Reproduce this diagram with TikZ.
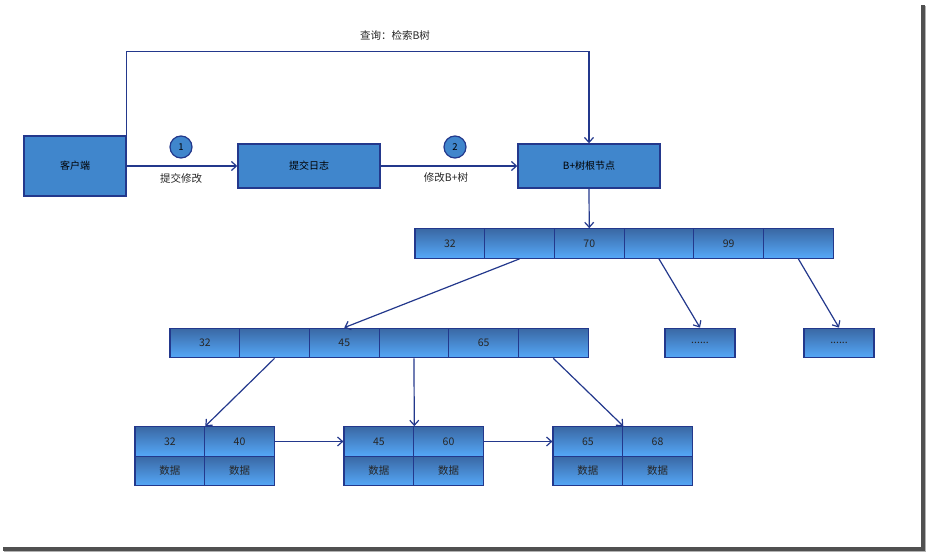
\documentclass[tikz,border=0pt]{standalone}
\usepackage{fontspec}
\setmainfont{Noto Sans CJK SC}
\usetikzlibrary{arrows.meta}
\definecolor{edge}{HTML}{23388C}
\definecolor{boxfill}{HTML}{4086CC}
\definecolor{celltop}{HTML}{3A68A4}
\definecolor{cellbot}{HTML}{55A8F8}
\definecolor{shadowc}{HTML}{505050}
\tikzset{
  mainbox/.style={draw=edge, line width=1.4pt, fill=boxfill, inner sep=0pt, font=\fontsize{10}{11}\selectfont, text=black},
  cell/.style={draw=edge, line width=1.2pt, top color=celltop, bottom color=cellbot, minimum width=69.7pt, minimum height=29.5pt, inner sep=0pt, font=\fontsize{10.5}{11}\selectfont, text=black!85},
  numcircle/.style={circle, draw=edge, line width=1.2pt, fill=boxfill, minimum size=22pt, inner sep=0pt, font=\fontsize{9.5}{10}\selectfont},
  lbl/.style={font=\fontsize{10.5}{11}\selectfont, text=black!85, inner sep=0pt},
  conn/.style={draw=edge, line width=1.2pt, -{Straight Barb[length=5pt,width=9pt]}}
}
\begin{document}
\begin{tikzpicture}[x=1pt,y=-1pt]
\useasboundingbox (0,0) rectangle (927,554);
% frame shadow
\fill[shadowc] (921,5) rectangle (925,551);
\fill[shadowc] (3,547) rectangle (925,551);
\fill[gray!60] (925,6) rectangle (926,552);
\fill[gray!60] (4,551) rectangle (926,552);

% main boxes
\node[mainbox, minimum width=102pt, minimum height=60pt] (client) at (75,166) {客户端};
\node[mainbox, minimum width=142pt, minimum height=44pt] (log) at (309,166) {提交日志};
\node[mainbox, minimum width=142pt, minimum height=44pt] (root) at (589,166) {B+树根节点};

\node[numcircle] (c1) at (181,147) {1};
\node[numcircle] (c2) at (455,147) {2};
\node[lbl] (l1) at (181,178) {提交修改};
\node[lbl] (l2) at (446,178) {修改B+树};
\node[lbl] (lq) at (395,35) {查询：检索B树};

\draw[conn] (client.east) -- (log.west);
\draw[conn] (log.east) -- (root.west);
\draw[conn] (client.north east) -- ++(0,-84) -| (root.north);

% top row
\foreach \i/\t in {1/32,2/,3/70,4/,5/99,6/} {
  \node[cell] (t\i) at ({415+34.85+(\i-1)*69.7},243.5) {\t};
}
\draw[conn] (root.south) -- (t3.north);

% middle row
\foreach \i/\t in {1/32,2/,3/45,4/,5/65,6/} {
  \node[cell] (m\i) at ({170+34.85+(\i-1)*69.7},343) {\t};
}
\node[cell, minimum width=70pt] (s1) at (700,343) {......};
\node[cell, minimum width=70pt] (s2) at (839,343) {......};

\draw[conn] (t2.south) -- (m3.north);
\draw[conn] (t4.south) -- (s1.north);
\draw[conn] (t6.south) -- (s2.north);

% leaves
\foreach \k/\x/\a/\b in {1/135/32/40, 2/344/45/60, 3/553/65/68} {
  \node[cell] (lf\k a) at ({\x+34.85},441.5) {\a};
  \node[cell] (lf\k b) at ({\x+34.85+69.7},441.5) {\b};
  \node[cell] (lf\k c) at ({\x+34.85},471) {数据};
  \node[cell] (lf\k d) at ({\x+34.85+69.7},471) {数据};
}
\draw[conn] (m2.south) -- (lf1a.north east);
\draw[conn] (m4.south) -- (lf2a.north east);
\draw[conn] (m6.south) -- (lf3a.north east);
\draw[conn] (lf1b.east) -- (lf2a.west);
\draw[conn] (lf2b.east) -- (lf3a.west);
\end{tikzpicture}
\end{document}
